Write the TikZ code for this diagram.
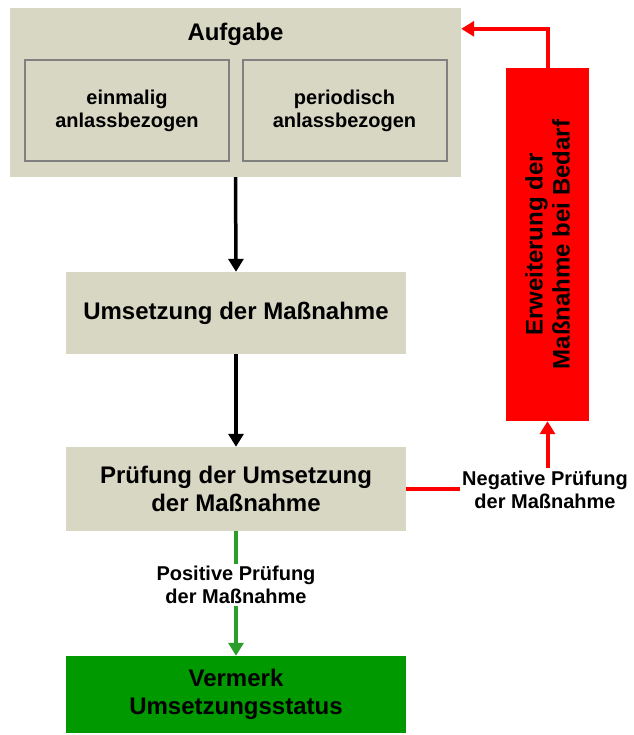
\documentclass[tikz,border=0pt]{standalone}
\usepackage{fontspec}
\setmainfont{Liberation Sans}
\usetikzlibrary{arrows.meta,calc}
\definecolor{beige}{HTML}{D8D7C3}
\definecolor{boxgreen}{HTML}{009900}
\definecolor{linegreen}{HTML}{2A9D2A}
\definecolor{innergray}{HTML}{808080}
\definecolor{pured}{HTML}{FF0000}
\begin{document}
\begin{tikzpicture}[x=1pt,y=-1pt,
  bigfont/.style={font=\bfseries\fontsize{24}{28}\selectfont},
  smallfont/.style={font=\bfseries\fontsize{20}{23}\selectfont},
  stage/.style={fill=beige, draw=none, minimum width=340pt, inner sep=0pt, align=center, bigfont},
  innerbox/.style={fill=beige, draw=innergray, line width=2pt, minimum width=204pt, minimum height=101pt, inner sep=0pt, align=center, smallfont},
  lbl/.style={align=center, smallfont, inner sep=2pt},
  tip/.style={-{Triangle[length=13pt,width=15pt]}},
  blackline/.style={line width=3.5pt, black, tip},
  redline/.style={line width=4pt, pured},
  greenline/.style={line width=4pt, linegreen}
]
\useasboundingbox (0,0) rectangle (633,735);
% Aufgabe
\node[fill=beige, minimum width=451pt, minimum height=169pt, inner sep=0pt] (aufgabe) at (235.5,92.5) {};
\node[bigfont] (aufgabetitle) at (235.5,34) {Aufgabe};
\node[innerbox] (inner1) at (127,110.5) {einmalig\\anlassbezogen};
\node[innerbox] (inner2) at (344.5,110.5) {periodisch\\anlassbezogen};
% stages
\node[stage, minimum height=82pt] (umsetz) at (236,313) {Umsetzung der Maßnahme};
\node[stage, minimum height=84pt] (pruef) at (236,489) {Prüfung der Umsetzung\\der Maßnahme};
\node[stage, minimum height=77pt, fill=boxgreen] (vermerk) at (236,694.5) {Vermerk\\Umsetzungsstatus};
% red box
\node[fill=pured, minimum width=353pt, minimum height=83pt, inner sep=0pt, rotate=90, align=center, font=\bfseries\fontsize{24}{27}\selectfont] (erw) at (547.5,244.5) {Erweiterung der\\Maßnahme bei Bedarf};
% labels
\node[lbl] (pos) at (236,585) {Positive Prüfung\\der Maßnahme};
\node[lbl] (neg) at (545,489.5) {Negative Prüfung\\der Maßnahme};
% connectors
\draw[blackline] (aufgabe.south) -- (umsetz.north);
\draw[blackline] (umsetz.south) -- (pruef.north);
\draw[greenline] (pruef.south) -- (pos.north);
\draw[greenline, tip] (pos.south) -- (vermerk.north);
\draw[redline] (pruef.east) -- (neg.west |- pruef.east);
\draw[redline, tip] (erw.west |- neg.north) -- (erw.west);
\draw[redline, tip] (erw.east) |- ([yshift=-21pt]aufgabe.north east);
\end{tikzpicture}
\end{document}
